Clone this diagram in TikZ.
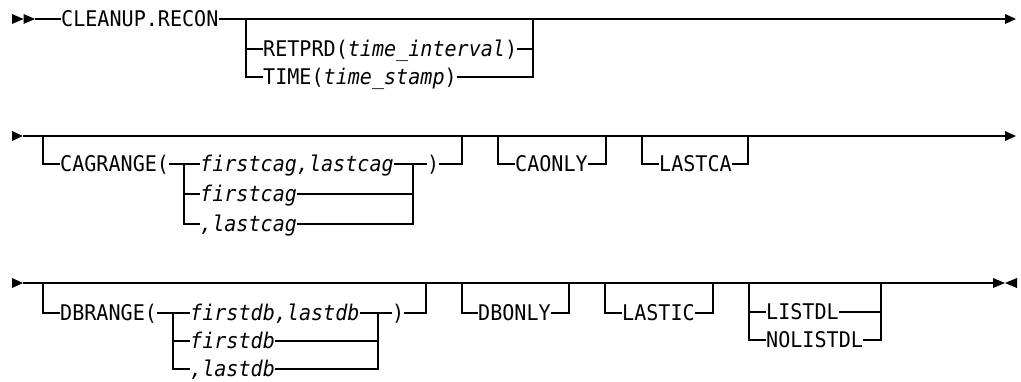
\documentclass[tikz,border=0pt]{standalone}
\usepackage{fontspec}
\newfontfamily\diagfont[FakeStretch=0.93]{DejaVu Sans Mono}
\newcommand\railfont{\diagfont\fontsize{21.6}{24}\selectfont}

\begin{document}
\begin{tikzpicture}[x=1pt, y=-1pt,
  rail/.style={line width=1.3pt, black},
  kw/.style={inner sep=0pt, text height=15.5pt, text depth=0pt, anchor=west, font=\railfont},
  tip/.style={fill=black}
]
\useasboundingbox (0,0) rectangle (1021,381);

% first line
\coordinate (a0) at (12,19);
\coordinate (a0b) at (23.5,19);
\coordinate (a0e) at (35,19);
\coordinate (aend) at (1005,19);
\fill[tip] (a0) -- ++(0,-5) -- ++(11.5,5) -- ++(-11.5,5) -- cycle;
\fill[tip] (a0b) -- ++(0,-5) -- ++(11.5,5) -- ++(-11.5,5) -- cycle;
\node[kw] (cln) at (61,19) {CLEANUP.RECON};
\draw[rail] (a0e) -- (cln.west);
\draw[rail] (cln.east) -- (aend);
\fill[tip] (aend) -- ++(0,-5) -- ++(11,5) -- ++(-11,5) -- cycle;
\coordinate (a1) at (246,19);
\coordinate (a2) at (533,19);
\node[kw] (ret) at (263,49) {RETPRD(\textit{time\_interval})};
\node[kw] (tim) at (263,77) {TIME(\textit{time\_stamp})};
\draw[rail] (a1) |- (tim.west);
\draw[rail] (a1 |- ret.west) -- (ret.west);
\draw[rail] (ret.east) -- (a2 |- ret.east);
\draw[rail] (tim.east) -| (a2);

% second line
\coordinate (b0) at (12,136);
\coordinate (b0e) at (23,136);
\coordinate (bend) at (1005,136);
\fill[tip] (b0) -- ++(0,-5) -- ++(11,5) -- ++(-11,5) -- cycle;
\draw[rail] (b0e) -- (bend);
\fill[tip] (bend) -- ++(0,-5) -- ++(11,5) -- ++(-11,5) -- cycle;
\coordinate (b1) at (43,136);
\coordinate (b2) at (184,164);
\coordinate (b3) at (413,164);
\coordinate (b4) at (462,136);
\node[kw] (cag) at (60,164) {CAGRANGE(};
\node[kw] (cfl) at (200,164) {\textit{firstcag,lastcag}};
\node[kw] (cf) at (200,194) {\textit{firstcag}};
\node[kw] (cl) at (200,224) {\textit{,lastcag}};
\node[kw] (cpar) at (427,164) {)};
\draw[rail] (b1) |- (cag.west);
\draw[rail] (cag.east) -- (cfl.west);
\draw[rail] (b2) |- (cl.west);
\draw[rail] (b2 |- cf.west) -- (cf.west);
\draw[rail] (cfl.east) -- (cpar.west);
\draw[rail] (cf.east) -- (b3 |- cf.west);
\draw[rail] (cl.east) -| (b3);
\draw[rail] (cpar.east) -| (b4);
\coordinate (b5) at (498,136);
\coordinate (b6) at (606,136);
\node[kw] (cao) at (515,164) {CAONLY};
\draw[rail] (b5) |- (cao.west);
\draw[rail] (cao.east) -| (b6);
\coordinate (b7) at (642,136);
\coordinate (b8) at (748,136);
\node[kw] (lca) at (659,164) {LASTCA};
\draw[rail] (b7) |- (lca.west);
\draw[rail] (lca.east) -| (b8);

% third line
\coordinate (c0) at (12,283);
\coordinate (c0e) at (23,283);
\coordinate (cend) at (993,283);
\coordinate (cstop) at (1017,283);
\fill[tip] (c0) -- ++(0,-5) -- ++(11,5) -- ++(-11,5) -- cycle;
\draw[rail] (c0e) -- (cend);
\fill[tip] (cend) -- ++(0,-5) -- ++(12,5) -- ++(-12,5) -- cycle;
\fill[tip] (cstop) -- ++(0,-5) -- ++(-12,5) -- ++(12,5) -- cycle;
\coordinate (c1) at (43,283);
\coordinate (c2) at (173,313);
\coordinate (c3) at (378,313);
\coordinate (c4) at (426,283);
\node[kw] (dbr) at (60,313) {DBRANGE(};
\node[kw] (dfl) at (190,313) {\textit{firstdb,lastdb}};
\node[kw] (df) at (190,341) {\textit{firstdb}};
\node[kw] (dl) at (190,369) {\textit{,lastdb}};
\node[kw] (dpar) at (392,313) {)};
\draw[rail] (c1) |- (dbr.west);
\draw[rail] (dbr.east) -- (dfl.west);
\draw[rail] (c2) |- (dl.west);
\draw[rail] (c2 |- df.west) -- (df.west);
\draw[rail] (dfl.east) -- (dpar.west);
\draw[rail] (df.east) -- (c3 |- df.west);
\draw[rail] (dl.east) -| (c3);
\draw[rail] (dpar.east) -| (c4);
\coordinate (c5) at (462,283);
\coordinate (c6) at (569,283);
\node[kw] (dbo) at (478,313) {DBONLY};
\draw[rail] (c5) |- (dbo.west);
\draw[rail] (dbo.east) -| (c6);
\coordinate (c7) at (605,283);
\coordinate (c8) at (713,283);
\node[kw] (lic) at (622,313) {LASTIC};
\draw[rail] (c7) |- (lic.west);
\draw[rail] (lic.east) -| (c8);
\coordinate (c9) at (749,283);
\coordinate (c10) at (881,283);
\node[kw] (lst) at (766,312) {LISTDL};
\node[kw] (nls) at (766,340) {NOLISTDL};
\draw[rail] (c9) |- (nls.west);
\draw[rail] (c9 |- lst.west) -- (lst.west);
\draw[rail] (lst.east) -- (c10 |- lst.west);
\draw[rail] (nls.east) -| (c10);
\coordinate (c11) at (886,283);
\coordinate (c12) at (909,283);
\draw[rail, line width=2.4pt] (c11) -- (c12);
\end{tikzpicture}
\end{document}
